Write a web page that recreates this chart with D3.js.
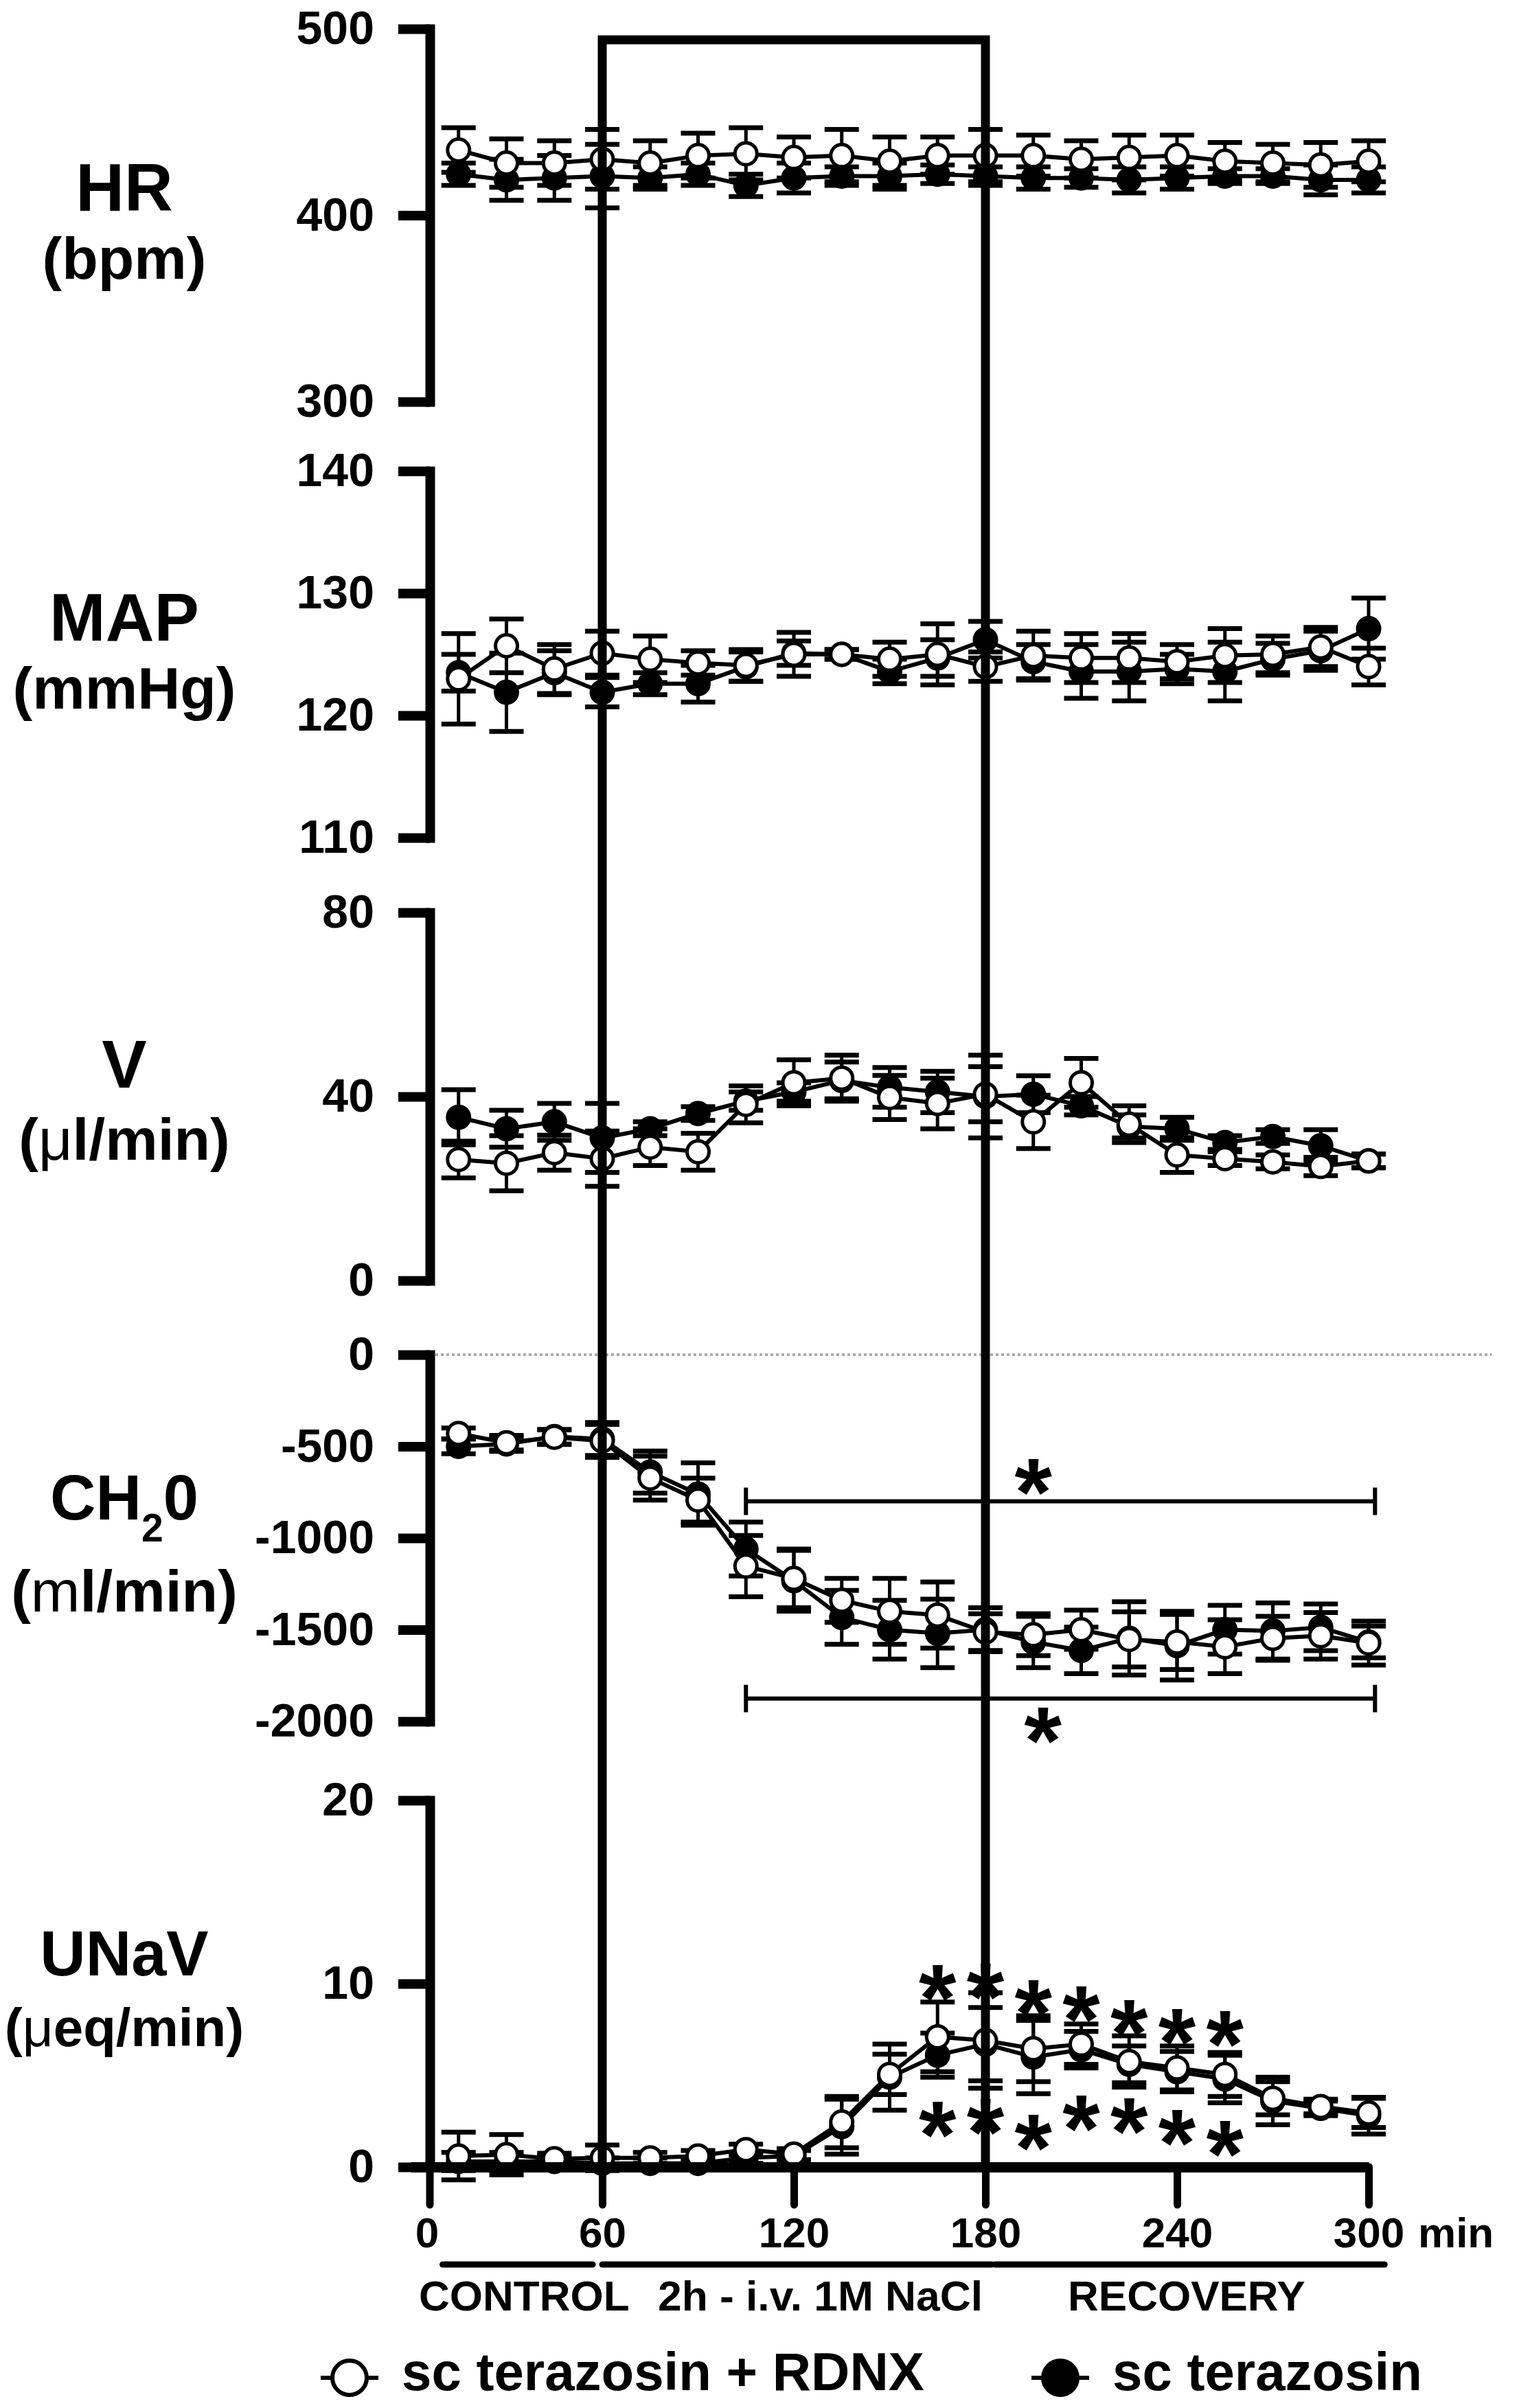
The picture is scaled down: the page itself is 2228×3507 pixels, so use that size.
<!DOCTYPE html>
<html>
<head>
<meta charset="utf-8">
<script src="https://cdn.jsdelivr.net/npm/d3@7"></script>
<style>
  body { margin: 0; background: #fff; }
  svg { display: block; }
  text { font-family: "Liberation Sans", Arial, sans-serif; font-weight: bold; fill: #000; }
</style>
</head>
<body>
<svg id="chart" width="2228" height="3507"></svg>
<script>
// Sampling times (min)
const times = [15, 30, 45, 60, 75, 90, 105, 120, 135, 150, 165, 180, 195, 210, 225, 240, 255, 270, 285, 300];

// HR (bpm)
const hrOpen = [435, 428, 428, 430, 428, 432, 433, 431, 432, 429, 432, 432, 432, 430, 431, 432, 429, 428, 427, 429];
const hrOpenSe = [12, 13, 12, 16, 12, 12, 14, 11, 14, 13, 10, 14, 11, 10, 12, 11, 10, 10, 12, 11];
const hrFilled = [422, 419, 420, 421, 420, 422, 416, 420, 421, 421, 422, 421, 420, 420, 419, 420, 421, 421, 419, 419];
const hrFilledSe = [6, 11, 12, 17, 6, 6, 6, 8, 5, 7, 5, 5, 6, 5, 7, 6, 4, 4, 8, 7];

// MAP (mmHg)
const mapOpen = [123.0, 125.7, 123.8, 125.1, 124.6, 124.3, 124.1, 125.0, 125.0, 124.6, 125.0, 124.0, 124.9, 124.7, 124.7, 124.4, 124.9, 125.0, 125.6, 124.0];
const mapOpenSe = [3.7, 2.2, 2.0, 1.8, 1.9, 1.0, 1.3, 1.8, 0.4, 1.4, 2.5, 1.2, 2.0, 2.0, 2.0, 1.4, 2.2, 1.5, 1.6, 1.5];
const mapFilled = [123.5, 121.9, 123.5, 121.9, 122.6, 122.6, 124.0, 125.1, 125.0, 123.6, 124.7, 126.2, 124.4, 123.6, 123.6, 123.8, 123.6, 124.6, 125.3, 127.1];
const mapFilledSe = [1.5, 3.2, 1.8, 1.2, 0.9, 1.5, 1.2, 1.0, 0.4, 1.0, 1.5, 1.5, 1.4, 2.2, 2.4, 1.2, 2.4, 1.3, 1.6, 2.5];

// V (ul/min)
const vOpen = [26.3, 25.5, 27.8, 26.5, 29, 28, 38.3, 43, 44, 39.8, 38.5, 40.5, 34.5, 43, 34, 27.3, 26.5, 25.8, 24.8, 26];
const vOpenSe = [4, 6, 3.8, 6, 4, 4, 4, 5, 5, 4.8, 5.5, 6, 5.8, 5.3, 4, 3.8, 1.5, 1.5, 2, 1.5];
const vFilled = [35.5, 33, 34.5, 31, 33, 36.3, 39, 41, 43.5, 42, 41, 40, 40.5, 38, 33.5, 33, 30, 31.3, 29.3, 26];
const vFilledSe = [6, 4, 4, 7.5, 1.5, 1.5, 2, 2, 4, 4.3, 4.5, 9, 4, 2, 2.5, 2.5, 1.5, 1.5, 3.5, 1.5];

// CH2O (ml/min)
const chOpen = [-430, -480, -450, -470, -673, -793, -1153, -1220, -1340, -1400, -1420, -1513, -1527, -1500, -1553, -1567, -1593, -1547, -1533, -1573];
const chOpenSe = [30, 40, 40, 90, 120, 120, 167, 160, 120, 180, 180, 100, 114, 107, 150, 150, 147, 120, 127, 120];
const chFilled = [-500, -487, -447, -460, -640, -760, -1060, -1233, -1433, -1500, -1520, -1500, -1567, -1613, -1547, -1587, -1500, -1507, -1487, -1567];
const chFilledSe = [40, 40, 40, 90, 115, 170, 147, 166, 147, 160, 187, 120, 140, 127, 200, 187, 133, 153, 127, 87];

// UNaV (ueq/min)
const unaOpen = [0.6, 0.67, 0.45, 0.5, 0.5, 0.6, 0.95, 0.7, 2.45, 5.05, 7.1, 6.9, 6.45, 6.7, 5.75, 5.4, 5.05, 3.75, 3.3, 2.95];
const unaOpenSe = [1.3, 1.1, 0.3, 0.7, 0.3, 0.3, 0.3, 0.3, 1.4, 1.1, 1.9, 2.6, 1.8, 1.1, 1.4, 1.2, 1.2, 0.9, 0.4, 0.8];
const unaFilled = [0.3, 0.3, 0.3, 0.2, 0.2, 0.2, 0.5, 0.6, 2.2, 4.9, 6.1, 6.7, 6.0, 6.4, 5.6, 5.2, 4.8, 3.6, 3.2, 2.8];
const unaFilledSe = [0.5, 0.5, 0.3, 0.3, 0.3, 0.3, 0.3, 0.3, 1.5, 1.8, 1.2, 2.0, 2.0, 1.0, 1.0, 1.1, 1.3, 1.3, 0.4, 1.0];

// significance marks
const unaStarTimes = [165, 180, 195, 210, 225, 240, 255];
const unaStarAbove = [10.5, 10.6, 9.7, 9.35, 8.6, 8.1, 8.0];
const unaStarBelow = [3.05, 3.2, 2.35, 3.4, 3.25, 2.6, 2.0];
const chBracketFrom = [105, 105];
const chBracketTo = [302, 302];
const chBracketLevel = [-800, -1875];
const chStarTime = [195, 198];
const chStarLevel = [-620, -1975];

// axis ticks and phases
const xTicks = [60, 120, 180, 240, 300];
const phaseNames = ["CONTROL", "2h - i.v. 1M NaCl", "RECOVERY"];
const phaseStart = [10, 60, 183];
const phaseEnd = [57, 182, 305];
const legendNames = ["sc terazosin + RDNX", "sc terazosin"];

const svg = d3.select("#chart");

const x = d3.scaleLinear().domain([0, 300]).range([598, 1993]);
const axisX = 626;       // position of the y axes
const baseY = 3156;      // position of the x axis
const starSize = 140;

const panels = [
    { name: "HR", unit: [["(bpm)", "bold"]], unitSize: 86, domain: [300, 500], range: [585, 42], ticks: [300, 400, 500],
      labelY: 307, unitY: 406, size: 98,
      open: hrOpen, openSe: hrOpenSe, filled: hrFilled, filledSe: hrFilledSe },
    { name: "MAP", unit: [["(mmHg)", "bold"]], unitSize: 86, domain: [110, 140], range: [1220, 686], ticks: [110, 120, 130, 140],
      labelY: 933, unitY: 1032, size: 98,
      open: mapOpen, openSe: mapOpenSe, filled: mapFilled, filledSe: mapFilledSe },
    { name: "V", unit: [["(", "bold"], ["\u03bc", "normal"], ["l/min)", "bold"]], unitSize: 86, domain: [0, 80], range: [1865, 1329], ticks: [0, 40, 80],
      labelY: 1584, unitY: 1689, size: 98,
      open: vOpen, openSe: vOpenSe, filled: vFilled, filledSe: vFilledSe },
    { name: "CH2O", unit: [["(", "bold"], ["m", "normal"], ["l/min)", "bold"]], unitSize: 86, domain: [-2000, 0], range: [2507, 1973], ticks: [-2000, -1500, -1000, -500, 0],
      labelY: 2213, unitY: 2347, size: 92,
      open: chOpen, openSe: chOpenSe, filled: chFilled, filledSe: chFilledSe },
    { name: "UNaV", unit: [["(", "bold"], ["\u03bc", "normal"], ["eq/min)", "bold"]], unitSize: 78, domain: [0, 20], range: [baseY, 2622], ticks: [0, 10, 20],
      labelY: 2877, unitY: 2980, size: 92,
      open: unaOpen, openSe: unaOpenSe, filled: unaFilled, filledSe: unaFilledSe }
];

panels.forEach(p => { p.y = d3.scaleLinear().domain(p.domain).range(p.range); });

// CH2O zero reference line
const chPanel = panels[3];
svg.append("line")
    .attr("x1", axisX).attr("x2", 2172)
    .attr("y1", chPanel.y(0)).attr("y2", chPanel.y(0))
    .attr("stroke", "#aaa").attr("stroke-width", 4)
    .attr("stroke-dasharray", "4,4");

// y axes and labels
panels.forEach(p => {
    const axis = d3.axisLeft(p.y)
        .tickValues(p.ticks)
        .tickSize(46)
        .tickSizeOuter(0)
        .tickPadding(35)
        .tickFormat(d => String(d));

    const g = svg.append("g")
        .attr("transform", `translate(${axisX},0)`)
        .call(axis);

    g.select(".domain").attr("stroke", "#000").attr("stroke-width", 14).attr("stroke-linecap", "square");
    g.selectAll(".tick line").attr("stroke", "#000").attr("stroke-width", 14);
    g.selectAll(".tick text")
        .attr("font-size", 68)
        .attr("font-family", "Liberation Sans, Arial, sans-serif")
        .attr("font-weight", "bold")
        .attr("fill", "#000");

    const title = svg.append("text")
        .attr("x", 181).attr("y", p.labelY)
        .attr("text-anchor", "middle")
        .attr("font-size", p.size);

    if (p.name === "CH2O") {
        title.append("tspan").text("CH");
        title.append("tspan").attr("font-size", p.size * 0.62).attr("dy", 32).text("2");
        title.append("tspan").attr("dy", -32).text("0");
    } else {
        title.text(p.name);
    }

    const unit = svg.append("text")
        .attr("x", 181).attr("y", p.unitY)
        .attr("text-anchor", "middle")
        .attr("font-size", p.unitSize);
    p.unit.forEach(([s, w]) => unit.append("tspan").attr("font-weight", w).text(s));
});

// data series
function drawSeries(y, vals, ses, filled) {
    const pts = times.map((t, i) => ({ t: t, v: vals[i], se: ses[i] }));
    const g = svg.append("g");

    g.selectAll(".stem").data(pts).join("line")
        .attr("x1", d => x(d.t)).attr("x2", d => x(d.t))
        .attr("y1", d => y(d.v + d.se)).attr("y2", d => y(d.v - d.se))
        .attr("stroke", "#000").attr("stroke-width", 5);

    [1, -1].forEach(sign => {
        g.selectAll(null).data(pts).join("line")
            .attr("x1", d => x(d.t) - 25).attr("x2", d => x(d.t) + 25)
            .attr("y1", d => y(d.v + sign * d.se)).attr("y2", d => y(d.v + sign * d.se))
            .attr("stroke", "#000").attr("stroke-width", 7);
    });

    g.append("path")
        .datum(pts)
        .attr("fill", "none")
        .attr("stroke", "#000")
        .attr("stroke-width", 6)
        .attr("d", d3.line().x(d => x(d.t)).y(d => y(d.v)));

    g.selectAll("circle").data(pts).join("circle")
        .attr("cx", d => x(d.t)).attr("cy", d => y(d.v))
        .attr("r", 16)
        .attr("fill", filled ? "#000" : "#fff")
        .attr("stroke", "#000").attr("stroke-width", 5);
}

panels.forEach(p => {
    drawSeries(p.y, p.filled, p.filledSe, true);
    drawSeries(p.y, p.open, p.openSe, false);
});

// x axis
const xAxis = d3.axisBottom(x)
    .tickValues(xTicks)
    .tickSize(55)
    .tickSizeOuter(0)
    .tickFormat(d => String(d));

const xg = svg.append("g")
    .attr("transform", `translate(0,${baseY})`)
    .call(xAxis);

xg.select(".domain").attr("stroke", "#000").attr("stroke-width", 15);
xg.selectAll(".tick line").attr("stroke", "#000").attr("stroke-width", 11).attr("stroke-linecap", "round");
xg.selectAll(".tick text")
    .attr("y", 117).attr("dy", 0)
    .attr("font-size", 62)
    .attr("font-family", "Liberation Sans, Arial, sans-serif")
    .attr("font-weight", "bold")
    .attr("fill", "#000");

// origin tick at the y axis
xg.append("line")
    .attr("x1", axisX).attr("x2", axisX)
    .attr("y1", 0).attr("y2", 55)
    .attr("stroke", "#000").attr("stroke-width", 11).attr("stroke-linecap", "round");
xg.append("text")
    .attr("x", axisX - 4).attr("y", 117)
    .attr("text-anchor", "middle")
    .attr("font-size", 62)
    .text("0");
xg.append("text")
    .attr("x", x(300) + 72).attr("y", 117)
    .attr("text-anchor", "start")
    .attr("font-size", 62)
    .text("min");

// infusion box
svg.append("path")
    .attr("d", `M${x(60)},${baseY}V58H${x(180)}V${baseY}`)
    .attr("fill", "none")
    .attr("stroke", "#000")
    .attr("stroke-width", 13);

// CH2O brackets
chBracketLevel.forEach((lv, i) => {
    const yy = chPanel.y(lv);
    const x1 = x(chBracketFrom[i]), x2 = x(chBracketTo[i]);
    const path = `M${x1},${yy - 20}V${yy + 20}M${x1},${yy}H${x2}M${x2},${yy - 20}V${yy + 20}`;
    svg.append("path").attr("d", path).attr("fill", "none").attr("stroke", "#000").attr("stroke-width", 6);
    svg.append("text")
        .attr("x", x(chStarTime[i])).attr("y", chPanel.y(chStarLevel[i]) + 0.59 * starSize)
        .attr("text-anchor", "middle")
        .attr("font-size", starSize)
        .text("*");
});

// UNaV asterisks
const unaPanel = panels[4];
unaStarTimes.forEach((t, i) => {
    [unaStarAbove[i], unaStarBelow[i]].forEach(v => {
        svg.append("text")
            .attr("x", x(t)).attr("y", unaPanel.y(v) + 0.59 * starSize)
            .attr("text-anchor", "middle")
            .attr("font-size", starSize)
            .text("*");
    });
});

// phase bars
phaseNames.forEach((name, i) => {
    svg.append("line")
        .attr("x1", x(phaseStart[i])).attr("x2", x(phaseEnd[i]))
        .attr("y1", 3298).attr("y2", 3298)
        .attr("stroke", "#000").attr("stroke-width", 9).attr("stroke-linecap", "round");
});
svg.append("text").attr("x", 610).attr("y", 3365).attr("font-size", 62).text(phaseNames[0]);
svg.append("text").attr("x", 958).attr("y", 3365).attr("font-size", 62)
    .attr("textLength", 473).attr("lengthAdjust", "spacingAndGlyphs").text(phaseNames[1]);
svg.append("text").attr("x", 1555).attr("y", 3365).attr("font-size", 62).text(phaseNames[2]);

// legend
const legendX = [509, 1544];
legendNames.forEach((name, i) => {
    const cx = legendX[i];
    svg.append("line")
        .attr("x1", cx - 42).attr("x2", cx + 42)
        .attr("y1", 3463).attr("y2", 3463)
        .attr("stroke", "#000").attr("stroke-width", 6);
    svg.append("circle")
        .attr("cx", cx).attr("cy", 3463).attr("r", 25)
        .attr("fill", i === 0 ? "#fff" : "#000")
        .attr("stroke", "#000").attr("stroke-width", 6);
    svg.append("text")
        .attr("x", cx + 76).attr("y", 3481)
        .attr("font-family", "'Open Sans', sans-serif")
        .attr("font-size", 78)
        .text(name);
});
</script>
</body>
</html>
